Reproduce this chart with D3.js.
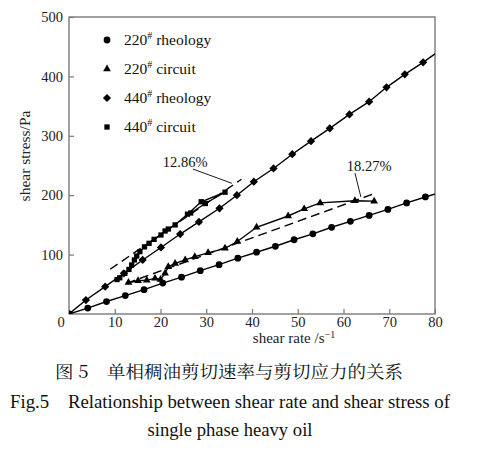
<!DOCTYPE html>
<html lang="en">
<head>
<meta charset="UTF-8">
<title>Shear rate vs shear stress</title>
<script src="https://d3js.org/d3.v7.min.js"></script>
<style>
    body { margin: 0; background: #fff; }
    svg { display: block; }
    svg text { font-family: "Liberation Serif", "Times New Roman", serif; }
</style>
</head>
<body>
<svg id="chart" width="491" height="455"></svg>
<script>
    // Data (shear rate in 1/s, shear stress in Pa)
    const rate220Rheo = [0, 4.1, 8.2, 12.3, 16.4, 20.5, 24.6, 28.7, 32.8, 36.9, 41, 45.1, 49.2, 53.3, 57.4, 61.5, 65.6, 69.7, 73.8, 77.9, 82];
    const stress220Rheo = [0, 10, 21, 31, 41, 52, 62, 73, 83, 94, 104, 114, 125, 135, 146, 156, 166, 176, 187, 197, 207];

    const rate220Circ = [13, 15.1, 17, 18.8, 20, 21, 21.7, 23.2, 25.4, 27.5, 30.4, 34.1, 36.8, 41, 47.9, 51.4, 54.9, 62.5, 66.7];
    const stress220Circ = [53, 56, 57, 60, 58, 68.5, 79.6, 85, 91, 96.5, 103, 110.6, 122, 146, 165, 177, 187, 190.7, 190];

    const rate440Rheo = [0, 3.7, 7.9, 12, 16.1, 20.1, 24.3, 28.4, 32.9, 36.7, 40.4, 44.7, 48.8, 52.9, 57, 61.3, 65.6, 69.4, 73.4, 77.4, 82];
    const stress440Rheo = [0, 23.5, 46, 68.5, 91, 112, 134.6, 155, 178, 200, 222.7, 245, 269, 291, 312.6, 336, 357.4, 381.6, 403.5, 423.7, 449];

    const rate440Circ = [10.5, 11.1, 12.2, 13.1, 13.7, 14.3, 14.8, 15.5, 16.5, 17.5, 18.6, 20.1, 21, 21.7, 23.2, 25.9, 28.9, 34.1, 29.8, 26.6];
    const stress440Circ = [58, 61, 68.5, 75, 82.5, 91, 97.6, 105, 113, 119, 125.7, 133, 139.7, 143, 150, 168, 189, 205, 186, 170];

    // dashed fitted lines
    const fit220Rate = [12.6, 66.5];
    const fit220Stress = [51.7, 202];
    const fit440Rate = [9, 37.7];
    const fit440Stress = [75.4, 226.8];

    const xTicks = [10, 20, 30, 40, 50, 60, 70, 80];
    const yTicks = [100, 200, 300, 400, 500];

    const legendNames = ["220", "220", "440", "440"];
    const legendKinds = ["rheology", "circuit", "rheology", "circuit"];

    const notes = [
        { text: "12.86%", x: 25.4, y: 247, from: [27.1, 244], to: [35.6, 220] },
        { text: "18.27%", x: 65.6, y: 240.5, from: [62.5, 237], to: [63.8, 197] }
    ];

    const serif = "'Liberation Serif', 'Times New Roman', serif";
    const zip = (xs, ys) => xs.map((v, i) => ({ x: v, y: ys[i] }));

    const svg = d3.select("#chart");
    const frame = { left: 69, right: 435, top: 17, bottom: 314 };

    const x = d3.scaleLinear().domain([0, 80]).range([frame.left, frame.right]);
    const y = d3.scaleLinear().domain([0, 500]).range([frame.bottom, frame.top]);

    svg.append("clipPath").attr("id", "plotClip")
        .append("rect")
        .attr("x", frame.left).attr("y", frame.top)
        .attr("width", frame.right - frame.left)
        .attr("height", frame.bottom - frame.top);

    // Axes with inward ticks
    const axisColor = "#7a7a7a";
    const gx = svg.append("g")
        .attr("transform", `translate(0,${frame.bottom})`)
        .call(d3.axisBottom(x).tickValues(xTicks).tickSizeInner(-5).tickSizeOuter(0).tickPadding(3));
    const gy = svg.append("g")
        .attr("transform", `translate(${frame.left},0)`)
        .call(d3.axisLeft(y).tickValues(yTicks).tickSizeInner(-5).tickSizeOuter(0).tickPadding(6));
    [gx, gy].forEach(g => {
        g.select(".domain").remove();
        g.selectAll("line").attr("stroke", axisColor).attr("stroke-width", 1.2);
        g.selectAll("text").attr("font-size", 14.5).attr("fill", "#222")
            .style("font-family", serif);
    });

    svg.append("rect")
        .attr("x", frame.left).attr("y", frame.top)
        .attr("width", frame.right - frame.left)
        .attr("height", frame.bottom - frame.top)
        .attr("fill", "none")
        .attr("stroke", axisColor)
        .attr("stroke-width", 1.4);

    svg.append("text")
        .attr("x", 61).attr("y", 327)
        .attr("text-anchor", "middle")
        .attr("font-size", 14.5).attr("fill", "#222")
        .style("font-family", serif)
        .text("0");

    // Axis titles
    const xTitle = svg.append("text")
        .attr("x", 294).attr("y", 343)
        .attr("text-anchor", "middle")
        .attr("font-size", 15).attr("fill", "#222")
        .style("font-family", serif);
    xTitle.append("tspan").text("shear rate /s");
    xTitle.append("tspan").attr("dy", -5).attr("font-size", 10).text("−1");

    svg.append("text")
        .attr("transform", "translate(30,156) rotate(-90)")
        .attr("text-anchor", "middle")
        .attr("font-size", 15.5).attr("fill", "#222")
        .style("font-family", serif)
        .text("shear stress/Pa");

    // Series
    const plot = svg.append("g").attr("clip-path", "url(#plotClip)");
    const line = d3.line().x(d => x(d.x)).y(d => y(d.y));

    const symbols = {
        circle: d3.symbol().type(d3.symbolCircle).size(36),
        triangle: d3.symbol().type(d3.symbolTriangle).size(26),
        diamond: d3.symbol().type(d3.symbolSquare).size(34),
        square: d3.symbol().type(d3.symbolSquare).size(28)
    };

    function drawDashed(xs, ys) {
        plot.append("path")
            .datum(zip(xs, ys))
            .attr("d", line)
            .attr("fill", "none")
            .attr("stroke", "#000")
            .attr("stroke-width", 1.4)
            .attr("stroke-dasharray", "9,5");
    }
    drawDashed(fit220Rate, fit220Stress);
    drawDashed(fit440Rate, fit440Stress);

    function drawSeries(xs, ys, shape) {
        const pts = zip(xs, ys);
        plot.append("path")
            .datum(pts)
            .attr("d", line)
            .attr("fill", "none")
            .attr("stroke", "#000")
            .attr("stroke-width", 1.4);
        plot.append("g")
            .selectAll("path")
            .data(pts)
            .join("path")
            .attr("d", symbols[shape])
            .attr("transform", d => `translate(${x(d.x)},${y(d.y)})` + (shape === "diamond" ? " rotate(45)" : ""))
            .attr("fill", "#000");
    }
    drawSeries(rate220Rheo, stress220Rheo, "circle");
    drawSeries(rate440Rheo, stress440Rheo, "diamond");
    drawSeries(rate220Circ, stress220Circ, "triangle");
    drawSeries(rate440Circ, stress440Circ, "square");

    // Percentage notes with leader lines
    notes.forEach(n => {
        svg.append("line")
            .attr("x1", x(n.from[0])).attr("y1", y(n.from[1]))
            .attr("x2", x(n.to[0])).attr("y2", y(n.to[1]))
            .attr("stroke", "#000").attr("stroke-width", 0.9);
        svg.append("text")
            .attr("x", x(n.x)).attr("y", y(n.y))
            .attr("text-anchor", "middle")
            .attr("font-size", 14.5).attr("fill", "#111")
            .style("font-family", serif)
            .text(n.text);
    });

    // Legend
    const legendShapes = ["circle", "triangle", "diamond", "square"];
    const legend = svg.append("g");
    legendShapes.forEach((s, i) => {
        const cy = 40 + i * 29;
        legend.append("path")
            .attr("d", symbols[s])
            .attr("transform", `translate(107,${cy})` + (s === "diamond" ? " rotate(45)" : ""))
            .attr("fill", "#000");
        const t = legend.append("text")
            .attr("x", 124).attr("y", cy + 5)
            .attr("font-size", 15.5).attr("fill", "#111")
            .style("font-family", serif);
        t.append("tspan").text(legendNames[i]);
        t.append("tspan").attr("dy", -6).attr("font-size", 10).text("#");
        t.append("tspan").attr("dy", 6).text(" " + legendKinds[i]);
    });

    // Caption
    svg.append("text")
        .attr("x", 229).attr("y", 378)
        .attr("text-anchor", "middle")
        .style("font-family", "'Noto Serif CJK SC', 'Noto Sans CJK SC', sans-serif")
        .attr("font-size", 17).attr("fill", "#111")
        .attr("textLength", 348).attr("lengthAdjust", "spacingAndGlyphs")
        .text("图 5\u3000单相稠油剪切速率与剪切应力的关系");

    svg.append("text")
        .attr("x", 230).attr("y", 408)
        .attr("text-anchor", "middle")
        .style("font-family", serif)
        .attr("font-size", 19).attr("fill", "#111")
        .attr("textLength", 440).attr("lengthAdjust", "spacingAndGlyphs")
        .text("Fig.5\u2003Relationship between shear rate and shear stress of");

    svg.append("text")
        .attr("x", 230).attr("y", 436)
        .attr("text-anchor", "middle")
        .style("font-family", serif)
        .attr("font-size", 19).attr("fill", "#111")
        .attr("textLength", 165).attr("lengthAdjust", "spacingAndGlyphs")
        .text("single phase heavy oil");
</script>
</body>
</html>
